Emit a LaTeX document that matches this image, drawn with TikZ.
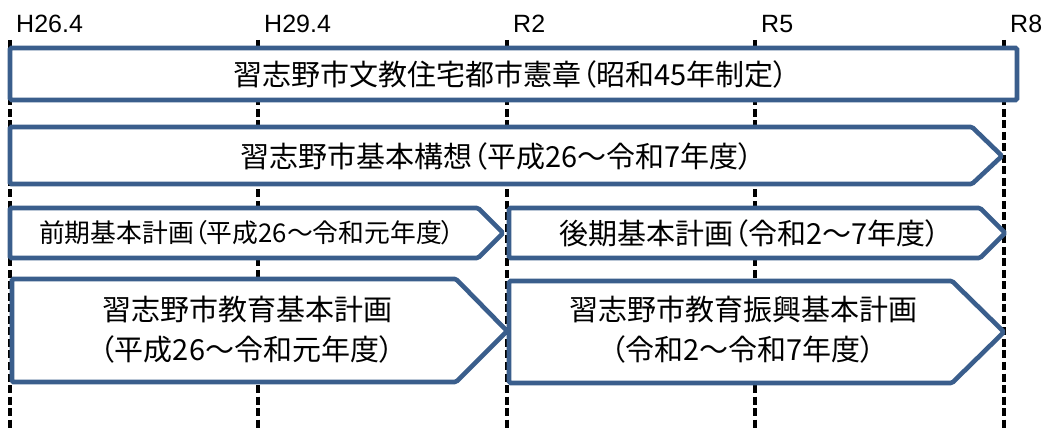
\documentclass[tikz,border=0pt]{standalone}
\usepackage{fontspec}
\setmainfont{Liberation Sans}
\newfontfamily\jp[RawFeature=+palt]{Noto Sans CJK JP}
\definecolor{bblue}{HTML}{3A5E8C}
\begin{document}
\begin{tikzpicture}[x=1pt,y=-1pt,
  grid/.style={black,line width=3.2pt,dash pattern=on 8pt off 3.5pt},
  plan/.style={draw=bblue,fill=white,line width=4.6pt,rounded corners=1.5pt,line join=miter},
  yr/.style={anchor=base west,font=\fontsize{25}{28}\selectfont,inner sep=0pt},
  big/.style={font=\jp\fontsize{29}{40}\selectfont,inner sep=0pt,align=center},
  small/.style={font=\jp\fontsize{25.8}{30}\selectfont,inner sep=0pt}]
\useasboundingbox (0,0) rectangle (1047,430);
% time grid
\foreach \x/\n/\t in {10/a/H26.4,258/b/H29.4,507/c/R2,755/d/R5,1004/e/R8}{
  \coordinate (top\n) at (\x,40);
  \coordinate (bot\n) at (\x,432);
  \draw[grid] (top\n) -- (bot\n);
  \node[yr] (lab\n) at (\x+6,33) {\t};
}
% row 1
\draw[plan] (10,48) rectangle (1017,100);
\node[big] (charter) at (511,74) {習志野市文教住宅都市憲章（昭和45年制定）};
% row 2
\draw[plan] (10,127) -- (972,127) -- (1002,156) -- (972,184) -- (10,184) -- cycle;
\node[big] (vision) at (497,156) {習志野市基本構想（平成26～令和7年度）};
% row 3
\draw[plan] (10,208) -- (478,208) -- (503,233) -- (478,258) -- (10,258) -- cycle;
\node[small] (early) at (247,233) {前期基本計画（平成26～令和元年度）};
\draw[plan] (509,208) -- (980,208) -- (1005,233) -- (980,258) -- (509,258) -- cycle;
\node[big] (late) at (750,233) {後期基本計画（令和2～7年度）};
% row 4
\draw[plan] (12,279) -- (456,279) -- (507,331) -- (456,382) -- (12,382) -- cycle;
\node[big] (edu1) at (247,330) {習志野市教育基本計画\\（平成26～令和元年度）};
\draw[plan] (509,281) -- (952,281) -- (1004,332) -- (952,383) -- (509,383) -- cycle;
\node[big] (edu2) at (743,330) {習志野市教育振興基本計画\\（令和2～令和7年度）};
\end{tikzpicture}
\end{document}
